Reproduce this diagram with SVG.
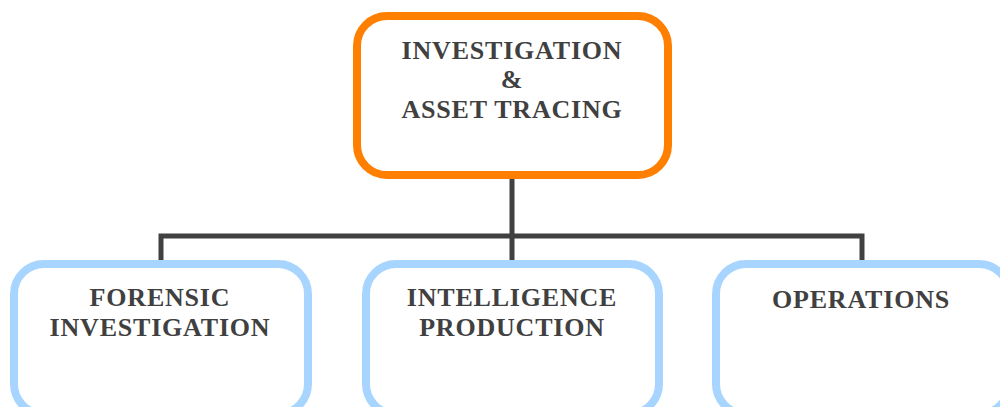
<svg xmlns="http://www.w3.org/2000/svg" width="1000" height="407" viewBox="0 0 1000 407">
<style>
.top{fill:#fff;stroke:#FF7F00;stroke-width:8}
.sub{fill:#fff;stroke:#A8D5FF;stroke-width:8}
.t{font-family:"Liberation Serif","Times New Roman",serif;font-weight:bold;font-size:26px;fill:#404040;text-anchor:middle;letter-spacing:0.8px}
.c{fill:none;stroke:#404040;stroke-width:5}
</style>
<g id="connectors">
<path class="c" d="M512 175 V236 M161 261 V236 H862 V261 M512 236 V261"/>
</g>
<g id="node-top">
<rect class="top" x="357" y="16" width="311" height="159" rx="30"/>
<text class="t" x="512" y="59">INVESTIGATION</text>
<text class="t" x="512" y="88">&amp;</text>
<text class="t" x="512" y="118">ASSET TRACING</text>
</g>
<g id="node-forensic">
<rect class="sub" x="14" y="264" width="294" height="150" rx="30"/>
<text class="t" x="160" y="306">FORENSIC</text>
<text class="t" x="160" y="336">INVESTIGATION</text>
</g>
<g id="node-intelligence">
<rect class="sub" x="366" y="264" width="293" height="150" rx="30"/>
<text class="t" x="512" y="306">INTELLIGENCE</text>
<text class="t" x="512" y="336">PRODUCTION</text>
</g>
<g id="node-operations">
<rect class="sub" x="716" y="264" width="293" height="150" rx="30"/>
<text class="t" x="861" y="308">OPERATIONS</text>
</g>
</svg>
